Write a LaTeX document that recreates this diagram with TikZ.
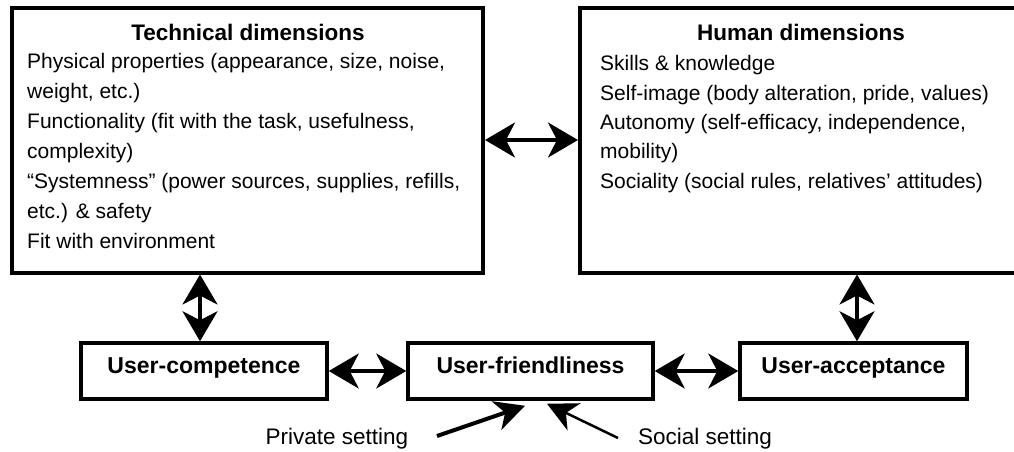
\documentclass[tikz,border=0pt]{standalone}
\usepackage{fontspec}
\setmainfont{Liberation Sans}
\usetikzlibrary{arrows.meta}
\begin{document}
\begin{tikzpicture}[x=1pt,y=-1pt,
  bigbox/.style={draw, line width=4pt, inner sep=0pt},
  smallbox/.style={draw, line width=3.5pt, inner sep=0pt, text height=12pt, text depth=8pt, font=\fontsize{23}{26}\selectfont\bfseries},
  body/.style={anchor=base west, inner sep=0pt, font=\fontsize{21}{25}\selectfont},
  title/.style={anchor=base, inner sep=0pt, font=\fontsize{22.5}{26}\selectfont\bfseries},
  dbl/.style={line width=3.5pt, {Stealth[length=30pt,width=35pt,inset=9pt]}-{Stealth[length=30pt,width=35pt,inset=9pt]}},
  sgl/.style={-{Stealth[length=30pt,width=30pt,inset=9pt]}},
  lbl/.style={inner sep=0pt, font=\fontsize{22.5}{26}\selectfont}
]
\useasboundingbox (0,0) rectangle (1014,451);
\node[bigbox, minimum width=471pt, minimum height=265pt] (tech) at (247.5,140) {};
\node[bigbox, minimum width=450pt, minimum height=265pt] (human) at (805,140) {};

\node[title] (techT) at (248,40) {Technical dimensions};
\node[body] (t1) at (27,68) {Physical properties (appearance, size, noise,};
\node[body] (t2) at (27,98) {weight, etc.)};
\node[body] (t3) at (27,128) {Functionality (fit with the task, usefulness,};
\node[body] (t4) at (27,158) {complexity)};
\node[body] (t5) at (27,188) {“Systemness” (power sources, supplies, refills,};
\node[body] (t6) at (27,218) {etc.) \& safety};
\node[body] (t7) at (27,248) {Fit with environment};

\node[title] (humT) at (801,40) {Human dimensions};
\node[body] (h1) at (600,70) {Skills \& knowledge};
\node[body] (h2) at (600,100) {Self-image (body alteration, pride, values)};
\node[body] (h3) at (600,129) {Autonomy (self-efficacy, independence,};
\node[body] (h4) at (600,158) {mobility)};
\node[body] (h5) at (600,188) {Sociality (social rules, relatives’ attitudes)};

\node[smallbox, minimum width=246pt, minimum height=56pt] (ucomp) at (204,371) {User-competence};
\node[smallbox, minimum width=245pt, minimum height=56pt] (ufr) at (530.5,371) {User-friendliness};
\node[smallbox, minimum width=227pt, minimum height=56pt] (uacc) at (853.5,371) {User-acceptance};

\draw[dbl] (tech.east) -- (human.west);
\draw[dbl] ([xshift=-4pt]ucomp.north) -- ([xshift=-4pt]ucomp.north |- tech.south);
\draw[dbl] ([xshift=3.5pt]uacc.north) -- ([xshift=3.5pt]uacc.north |- human.south);
\draw[dbl] (ucomp.east) -- (ufr.west);
\draw[dbl] (ufr.east) -- (uacc.west);

\node[lbl, anchor=base] (priv) at (337,444) {Private setting};
\node[lbl, anchor=base west] (soc) at (638,444) {Social setting};
\coordinate (ptail) at (437,436);
\coordinate (stail) at (618,438);
\draw[sgl, line width=4pt] (ptail) -- ([xshift=-5.5pt,yshift=-5pt]ufr.south);
\draw[sgl, line width=2.5pt] (stail) -- ([xshift=16.5pt,yshift=-3pt]ufr.south);
\end{tikzpicture}
\end{document}
